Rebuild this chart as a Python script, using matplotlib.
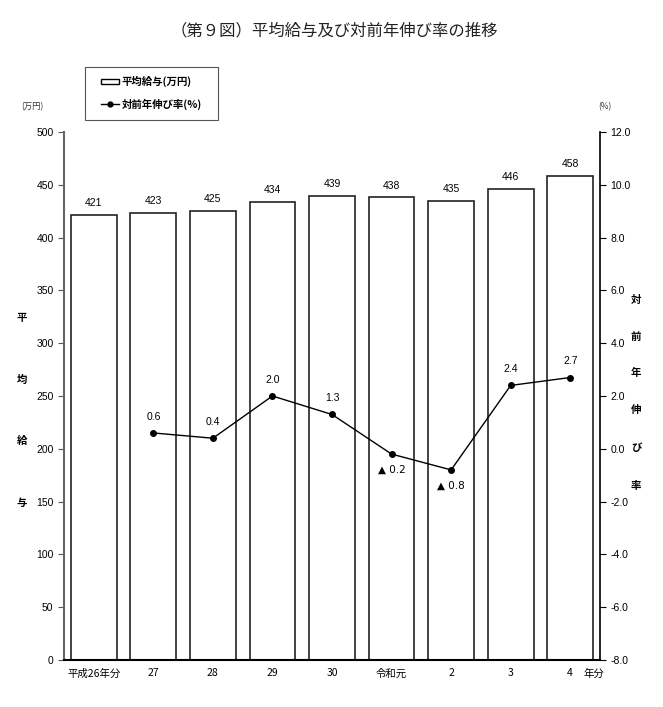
import matplotlib
matplotlib.use("Agg")
import matplotlib.pyplot as plt
from matplotlib.patches import Patch, Rectangle
from matplotlib.lines import Line2D
from matplotlib.ticker import FixedLocator

plt.rcParams['font.family'] = ['Noto Sans CJK JP', 'DejaVu Sans']

years = ['平成26年分', '27', '28', '29', '30', '令和元', '2', '3', '4']
salary = [421, 423, 425, 434, 439, 438, 435, 446, 458]
growth = [None, 0.6, 0.4, 2.0, 1.3, -0.2, -0.8, 2.4, 2.7]

W, H = 663, 707
fig = plt.figure(figsize=(6.63, 7.07), dpi=100)
ax = fig.add_axes([0.0965, 0.0665, 0.8085, 0.7468])
ax2 = ax.twinx()

x = list(range(len(years)))
ax.bar(x, salary, width=0.77, color='white', edgecolor='#222222', linewidth=1.2, zorder=2)
for xi, v in zip(x, salary):
    ax.annotate(str(v), (xi, v), xytext=(0, 5), textcoords='offset points',
                ha='center', va='bottom', fontsize=7.5, family='Liberation Sans')

ax.set_xlim(-0.5, 8.5)
ax.set_ylim(0, 500)
ax.yaxis.set_major_locator(FixedLocator(range(0, 501, 50)))
ax.set_xticks(x)
ax.set_xticklabels(years, fontsize=7.5)
ax.tick_params(axis='x', length=0, pad=6)
ax.tick_params(axis='y', labelsize=7.5, length=4, direction='out', color='#555555')
for lbl in ax.get_yticklabels():
    lbl.set_family('Liberation Sans')
ax.spines['top'].set_visible(False)
ax.spines['right'].set_visible(False)
ax.spines['left'].set_color('#666666')
ax.spines['left'].set_linewidth(1.5)
ax.spines['bottom'].set_linewidth(1.5)

# growth line
gx = [xi for xi, g in zip(x, growth) if g is not None]
gy = [g for g in growth if g is not None]
ax2.plot(gx, gy, color='black', linewidth=1.0, marker='o', markersize=4, zorder=3)
for xi, g in zip(gx, gy):
    if g >= 0:
        ax2.annotate(f'{g:.1f}', (xi, g), xytext=(0, 8), textcoords='offset points',
                     ha='center', va='bottom', fontsize=7.5, family='Liberation Sans')
    else:
        ax2.annotate(f'▲ {abs(g):.1f}', (xi, g), xytext=(0, -8), textcoords='offset points',
                     ha='center', va='top', fontsize=7.5, family=['DejaVu Sans'])
ax2.set_ylim(-8, 12)
ax2.yaxis.set_major_locator(FixedLocator(range(-8, 13, 2)))
ax2.set_yticklabels([f'{v:.1f}' for v in range(-8, 13, 2)], fontsize=7.5, family='Liberation Sans')
ax2.tick_params(axis='y', length=4, direction='out')
ax2.spines['top'].set_visible(False)
ax2.spines['left'].set_visible(False)
ax2.spines['bottom'].set_visible(False)
ax2.spines['right'].set_linewidth(1.2)

# year unit at end of x axis
fig.text(594 / W, 1 - 674 / H, '年分', ha='center', va='center', fontsize=7.5)

# unit labels
fig.text(32 / W, 1 - 107 / H, '(万円)', ha='center', va='center', fontsize=6, color='#333333')
fig.text(605 / W, 1 - 107 / H, '(%)', ha='center', va='center', fontsize=6, color='#333333')

# vertical axis labels
for ch, yy in zip('平均給与', [318, 380, 441, 503]):
    fig.text(22 / W, 1 - yy / H, ch, ha='center', va='center', fontsize=7.5, weight='bold')
for ch, yy in zip('対前年伸び率', [300, 337, 373, 410, 448, 486]):
    fig.text(636 / W, 1 - yy / H, ch, ha='center', va='center', fontsize=7.5, weight='bold')

# title
fig.text(0.505, 1 - 31 / H, '（第９図）平均給与及び対前年伸び率の推移', ha='center', va='center',
         fontsize=11.8, color='#222222')

# legend
fig.patches.append(Rectangle((85 / W, 1 - 120 / H), 133 / W, 53 / H, transform=fig.transFigure,
                             fill=False, edgecolor='#555555', linewidth=0.8))
handles = [Patch(facecolor='white', edgecolor='black', linewidth=1.0),
           Line2D([0], [0], color='black', marker='o', markersize=3.5, linewidth=1.0)]
leg = fig.legend(handles, ['平均給与(万円)', '対前年伸び率(%)'],
                 loc='upper left', bbox_to_anchor=(101 / W, 1 - 76 / H),
                 frameon=False, borderpad=0, borderaxespad=0,
                 handlelength=1.75, handleheight=0.45, handletextpad=0.2, labelspacing=1.05,
                 prop={'weight': 'bold', 'size': 7.5})

fig.savefig('out.png', dpi=100)
